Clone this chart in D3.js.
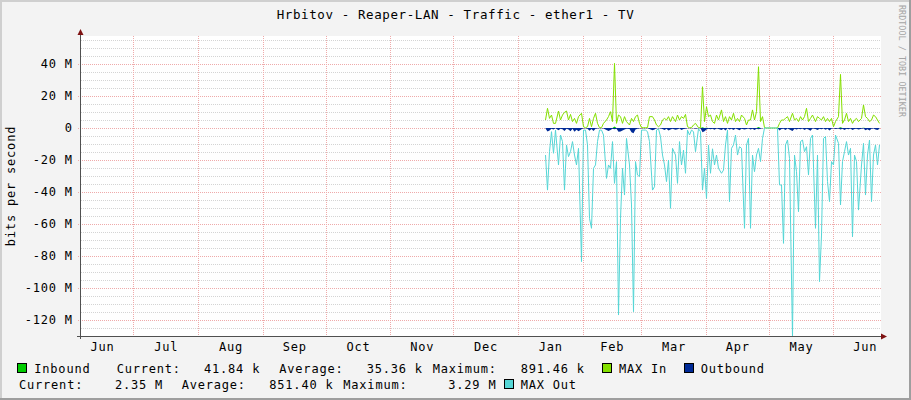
<!DOCTYPE html>
<html><head><meta charset="utf-8">
<script src="https://cdn.jsdelivr.net/npm/d3@7"></script>
<style>
html,body{margin:0;padding:0;background:#f3f3f3;}
svg{display:block;}
text{font-family:"DejaVu Sans Mono",monospace;}
</style>
</head><body>
<svg id="chart" width="911" height="400"></svg>
<script>
// ---------------- data ----------------
const title = "Hrbitov - Reaper-LAN - Traffic - ether1 - TV";
const yAxisTitle = "bits per second";
const sideText = "RRDTOOL / TOBI OETIKER";
const monthLabels = ["Jun","Jul","Aug","Sep","Oct","Nov","Dec","Jan","Feb","Mar","Apr","May","Jun"];
const yTickValues = [40, 20, 0, -20, -40, -60, -80, -100, -120];
const yTickLabels = ["40 M","20 M","0","-20 M","-40 M","-60 M","-80 M","-100 M","-120 M"];
const viewStart = "2022-06-05T12:00:00Z";
const viewEnd = "2023-06-23T19:00:00Z";
const firstSample = "2023-01-14T00:00:00Z"; // one sample per day

// MAX In (M bit/s)
const maxIn = [
 5.0,12.3,6.0,8.1,2.9,2.9,10.6,5.0,8.1,9.8,
 10.6,5.0,8.5,4.0,6.0,2.9,7.1,9.2,0.8,0.2,
 0.8,6.0,0.8,6.0,9.2,2.9,0.2,0.2,2.9,5.0,
 7.1,10.2,4.0,40.4,2.9,8.1,7.1,2.9,7.1,4.0,
 1.9,6.0,4.0,7.1,8.1,2.9,0.2,0.2,0.2,0.2,
 7.1,7.1,5.0,1.9,0.8,1.9,5.0,6.0,5.0,7.1,
 4.0,7.1,4.0,8.1,5.0,7.1,6.0,8.5,0.8,0.2,
 0.2,1.9,2.9,0.2,0.2,25.8,4.0,13.3,7.1,8.1,
 4.0,2.9,8.1,5.0,11.3,4.0,7.1,2.9,7.1,5.0,
 9.2,4.0,6.0,4.0,8.1,6.0,1.9,5.0,5.0,11.3,
 5.0,10.2,38.3,4.0,7.1,0.2,0,0,0,0,
 0,0,2.9,5.0,5.0,6.0,7.1,4.0,9.2,5.0,
 6.0,4.0,7.1,5.0,7.1,12.3,4.0,6.0,8.1,4.0,
 7.1,6.0,5.0,7.1,4.0,6.0,4.0,6.0,0.8,4.0,
 7.1,33.5,2.9,5.0,9.2,4.0,6.0,2.9,5.0,6.0,
 4.0,6.0,14.4,7.1,6.0,4.0,5.0,8.1,7.1,5.0,
 2.9
];
// MAX Out (M bit/s, plotted below zero)
const maxOut = [
 -16.9,-38.8,-14.8,-2.3,-15.8,-1.3,-23.1,-4.4,-8.5,-38.8,
 -10.6,-17.9,-14.8,-8.5,-16.9,-23.1,-12.7,-83.5,-1.3,-1.3,
 -10.6,-56.5,-62.7,-25.2,-23.1,-8.5,-1.3,-1.3,-4.4,-31.5,
 -23.1,-25.2,-8.5,-34.6,-21.0,-116.9,-56.5,-25.2,-41.9,-6.5,
 -23.1,-48.1,-114.8,-21.0,-29.4,-30.4,-1.3,-1.3,-1.3,-2.3,
 -8.5,-38.8,-36.7,-1.3,-0.5,-5.4,-16.9,-23.1,-33.5,-20.0,
 -50.2,-12.7,-16.9,-34.6,-8.5,-23.1,-13.8,-28.3,-1.3,-4.4,
 -1.3,-2.3,-14.8,-0.5,-2.3,-38.8,-25.2,-44.0,-10.6,-28.3,
 -13.0,-23.1,-16.9,-25.2,-28.3,-26.3,-10.6,-1.3,-46.0,-12.7,
 -10.6,-4.4,-16.9,-11.7,-12.7,-62.7,-10.6,-6.5,-62.7,-16.9,
 -27.3,-16.9,-12.7,-21.0,-6.5,0,0,0,0,0,
 0,0,-35.6,-35.6,-72.1,-10.6,-7.5,-19.0,-131.0,-16.9,
 -27.3,-52.3,-8.5,-7.5,-14.8,-11.7,-29.4,-6.5,-4.4,-62.7,
 -16.9,-96.0,-66.9,-6.5,-5.4,-33.5,-46.0,-21.0,-23.1,-4.4,
 -9.6,-48.1,-21.0,-14.8,-8.5,-16.9,-12.7,-68.0,-16.9,-21.0,
 -51.3,-23.1,-9.6,-41.9,-16.9,-7.5,-46.0,-16.9,-10.6,-23.1,
 -10.6
];
// Outbound average (M bit/s, magnitude; plotted below zero)
const outbound = [
 0.3,2.2,1.6,0.5,0.9,0.2,1.4,0.4,0.8,1.8,
 0.5,1.0,2.0,0.4,2.4,1.1,2.1,0.8,0.2,0.1,
 0.4,1.7,0.7,1.9,0.5,0.3,0.1,0.1,0.3,1.2,
 1.8,1.3,0.4,0.8,0.4,2.4,2.2,1.5,0.9,0.5,
 0.6,2.6,3.3,1.0,0.4,0.3,0.1,0.1,0.1,0.2,
 0.6,1.4,0.9,0.2,0.1,0.3,0.7,1.2,0.5,1.5,
 0.9,0.4,1.1,0.8,0.3,1.2,0.7,0.4,0.1,0.2,
 0.1,0.2,0.5,0.1,0.2,2.7,2.0,0.9,0.4,0.8,
 0.5,1.1,0.3,0.7,1.3,0.4,1.5,0.2,0.9,0.5,
 1.2,0.3,0.8,1.4,0.4,1.0,0.7,0.3,0.9,0.5,
 1.3,0.4,0.8,0.5,0.2,0,0,0,0,0,
 0,0,1.5,0.7,0.4,1.3,0.3,0.9,1.9,0.5,
 1.0,0.4,0.8,0.3,1.2,0.5,0.9,1.7,0.3,0.7,
 1.3,0.4,0.8,0.3,1.1,0.5,1.5,0.4,0.2,0.7,
 0.3,0.9,0.5,1.3,0.4,0.8,0.3,1.2,0.7,0.4,
 1.0,0.5,0.3,1.4,0.8,1.6,0.5,0.3,0.9,1.3,
 0.5
];
// Inbound average (M bit/s)
const inbound = [
 0.03,0.05,0.04,0.02,0.03,0.02,0.06,0.04,0.03,0.05,
 0.04,0.03,0.05,0.02,0.04,0.03,0.06,0.04,0.01,0.01,
 0.02,0.04,0.03,0.05,0.03,0.02,0.01,0.01,0.02,0.04,
 0.05,0.03,0.04,0.89,0.03,0.05,0.04,0.03,0.04,0.02,
 0.02,0.04,0.03,0.05,0.04,0.02,0.01,0.01,0.01,0.01,
 0.04,0.05,0.03,0.02,0.01,0.02,0.03,0.04,0.03,0.05,
 0.03,0.04,0.03,0.05,0.03,0.04,0.04,0.05,0.01,0.01,
 0.01,0.02,0.03,0.01,0.01,0.42,0.03,0.08,0.04,0.05,
 0.03,0.02,0.05,0.03,0.06,0.03,0.04,0.02,0.04,0.03,
 0.05,0.03,0.04,0.03,0.05,0.04,0.02,0.03,0.03,0.06,
 0.03,0.05,0.61,0.03,0.04,0.01,0,0,0,0,
 0,0,0.02,0.03,0.03,0.04,0.05,0.03,0.05,0.03,
 0.04,0.03,0.05,0.03,0.04,0.07,0.03,0.04,0.05,0.03,
 0.04,0.04,0.03,0.05,0.03,0.04,0.03,0.04,0.01,0.03,
 0.04,0.52,0.02,0.03,0.05,0.03,0.04,0.02,0.03,0.04,
 0.03,0.04,0.09,0.04,0.04,0.03,0.03,0.05,0.04,0.04,
 0.04
];
const legendRow1 = [
  {box:"#00cc00", text:"Inbound"},
  {text:"Current:"}, {text:"41.84 k"}, {text:"Average:"}, {text:"35.36 k"},
  {text:"Maximum:"}, {text:"891.46 k"},
  {box:"#84e000", text:"MAX In"}, {box:"#002a97", text:"Outbound"}
];
const legendRow2 = [
  {text:"Current:"}, {text:"2.35 M"}, {text:"Average:"}, {text:"851.40 k"},
  {text:"Maximum:"}, {text:"3.29 M"}, {box:"#55d6d6", text:"MAX Out"}
];

// ---------------- layout / style ----------------
const W = 911, H = 400;
const plot = {left: 80, right: 881, top: 36, bottom: 336};
const col = {inbound:"#00cc00", maxIn:"#84e000", outbound:"#002a97", maxOut:"#55d6d6",
             minor:"#d4d4d4", major:"#efaaaa", axis:"#505050", arrow:"#7f1212"};
const fontSize = 12, letterSpacing = 0.8;

const svg = d3.select("#chart");

// frame
svg.append("rect").attr("x",0).attr("y",0).attr("width",W).attr("height",H).attr("fill","#f3f3f3");
svg.append("rect").attr("x",0).attr("y",0).attr("width",W).attr("height",2).attr("fill","#cfcfcf");
svg.append("rect").attr("x",0).attr("y",0).attr("width",2).attr("height",H).attr("fill","#cfcfcf");
svg.append("rect").attr("x",W-2).attr("y",0).attr("width",2).attr("height",H).attr("fill","#9e9e9e");
svg.append("rect").attr("x",0).attr("y",H-2).attr("width",W).attr("height",2).attr("fill","#9e9e9e");

// plot background
svg.append("rect").attr("x",plot.left).attr("y",plot.top)
  .attr("width",plot.right-plot.left).attr("height",plot.bottom-plot.top).attr("fill","#ffffff");

// scales
const t0 = new Date(viewStart), t1 = new Date(viewEnd);
const x = d3.scaleUtc().domain([t0, t1]).range([plot.left, plot.right]);
const y = d3.scaleLinear().domain([-130, 57.5]).range([plot.bottom, plot.top]);

// samples
const s0 = new Date(firstSample);
const samples = maxIn.map((v,i)=>({
  date: d3.utcDay.offset(s0, i),
  maxIn: v, maxOut: maxOut[i], outbound: outbound[i], inbound: inbound[i]
}));
const px = d => Math.round(x(d.date)) + 0.5;

// grid
const grid = svg.append("g").attr("shape-rendering","crispEdges");
const minorVals = d3.range(-125, 57.5, 5).filter(v => v % 20 !== 0);
grid.selectAll(".minor").data(minorVals).join("line")
  .attr("x1",plot.left+1).attr("x2",plot.right)
  .attr("y1",d=>Math.round(y(d))+0.5).attr("y2",d=>Math.round(y(d))+0.5)
  .attr("stroke",col.minor).attr("stroke-dasharray","1,1");
const majorVals = d3.range(-120, 57.5, 20);
grid.selectAll(".major").data(majorVals).join("line")
  .attr("x1",plot.left-2).attr("x2",plot.right)
  .attr("y1",d=>Math.round(y(d))+0.5).attr("y2",d=>Math.round(y(d))+0.5)
  .attr("stroke",col.major).attr("stroke-dasharray","1,1");
const monthStarts = d3.utcMonth.range(d3.utcMonth.ceil(t0), t1);
grid.selectAll(".vmaj").data(monthStarts).join("line")
  .attr("x1",d=>Math.round(x(d))+0.5).attr("x2",d=>Math.round(x(d))+0.5)
  .attr("y1",plot.top).attr("y2",plot.bottom+2)
  .attr("stroke",col.major).attr("stroke-dasharray","1,1");

// clip
svg.append("clipPath").attr("id","clip").append("rect")
  .attr("x",plot.left+1).attr("y",plot.top).attr("width",plot.right-plot.left-1).attr("height",plot.bottom-plot.top);
const g = svg.append("g").attr("clip-path","url(#clip)");
const curve = d3.curveLinear;

g.append("path").datum(samples)
  .attr("d", d3.area().curve(curve).x(px).y0(y(0)).y1(d=>y(d.inbound)))
  .attr("fill", col.inbound);
g.append("path").datum(samples)
  .attr("d", d3.line().curve(curve).x(px).y(d=>y(d.maxIn)))
  .attr("fill","none").attr("stroke",col.maxIn).attr("stroke-width",1);
g.append("path").datum(samples)
  .attr("d", d3.area().curve(curve).x(px).y0(y(0)).y1(d=>y(-d.outbound)))
  .attr("fill", col.outbound);
g.append("path").datum(samples)
  .attr("d", d3.line().curve(curve).x(px).y(d=>y(d.maxOut)))
  .attr("fill","none").attr("stroke",col.maxOut).attr("stroke-width",1);

// axes
const yAxis = d3.axisLeft(y).tickValues(yTickValues)
  .tickFormat((d,i)=>yTickLabels[i]).tickSize(0).tickPadding(8);
const yg = svg.append("g").attr("transform",`translate(${plot.left},0)`).call(yAxis);
yg.select(".domain").remove();
yg.selectAll("text").attr("font-family","DejaVu Sans Mono").attr("font-size",fontSize)
  .attr("letter-spacing",letterSpacing).attr("fill","#000").attr("dx",letterSpacing);

const monthMids = d3.utcMonth.range(d3.utcMonth.floor(t0), t1).map(m => {
  const next = d3.utcMonth.offset(m,1);
  return new Date((+m + +next)/2);
});
const xAxis = d3.axisBottom(x).tickValues(monthMids)
  .tickFormat((d,i)=>monthLabels[i]).tickSize(0).tickPadding(6);
const xg = svg.append("g").attr("transform",`translate(0,${plot.bottom})`).call(xAxis);
xg.select(".domain").remove();
xg.selectAll("text").attr("font-family","DejaVu Sans Mono").attr("font-size",fontSize)
  .attr("letter-spacing",letterSpacing).attr("fill","#000");

// axis lines + arrows
svg.append("line").attr("x1",plot.left+0.5).attr("x2",plot.left+0.5).attr("y1",plot.top-4).attr("y2",plot.bottom+3)
  .attr("stroke",col.axis).attr("shape-rendering","crispEdges");
svg.append("line").attr("x1",plot.left-3).attr("x2",plot.right+2).attr("y1",plot.bottom+0.5).attr("y2",plot.bottom+0.5)
  .attr("stroke",col.axis).attr("shape-rendering","crispEdges");
svg.append("path").attr("d",`M${plot.left-2.5},${plot.top-1} L${plot.left+3.5},${plot.top-1} L${plot.left+0.5},${plot.top-7} Z`)
  .attr("fill",col.arrow);
svg.append("path").attr("d",`M${plot.right},${plot.bottom-2.5} L${plot.right},${plot.bottom+3.5} L${plot.right+6},${plot.bottom+0.5} Z`)
  .attr("fill",col.arrow);

// title
svg.append("text").attr("x",(W)/2).attr("y",19).attr("text-anchor","middle")
  .attr("font-size",12.5).attr("letter-spacing",0.6).attr("fill","#000").text(title);
// y axis title
svg.append("text").attr("transform",`translate(15,${(plot.top+plot.bottom)/2})) rotate(-90)`.replace("))",")"))
  .attr("text-anchor","middle").attr("font-size",fontSize).attr("letter-spacing",letterSpacing)
  .attr("fill","#000").text(yAxisTitle);
// side text
svg.append("text").attr("transform","translate(899,5) rotate(90)")
  .attr("font-size",8.4).attr("fill","#a4a4a4").attr("letter-spacing",0.05).text(sideText);

// legend
const row1X = [34.3, 116.7, 204, 279.3, 366.7, 432.7, 520.7, 619, 700.7];
const row2X = [19, 115, 181.7, 269.3, 343.3, 448.3, 520.7];
function drawRow(items, xs, baseline){
  items.forEach((it,i)=>{
    if (it.box){
      svg.append("rect").attr("x",xs[i]-16.5).attr("y",baseline-9.5).attr("width",9).attr("height",9)
        .attr("fill",it.box).attr("stroke","#000").attr("stroke-width",1).attr("shape-rendering","crispEdges");
    }
    svg.append("text").attr("x",xs[i]).attr("y",baseline).attr("font-size",fontSize)
      .attr("letter-spacing",letterSpacing).attr("fill","#000").text(it.text);
  });
}
drawRow(legendRow1, row1X, 373);
drawRow(legendRow2, row2X, 389);
</script>
</body></html>
